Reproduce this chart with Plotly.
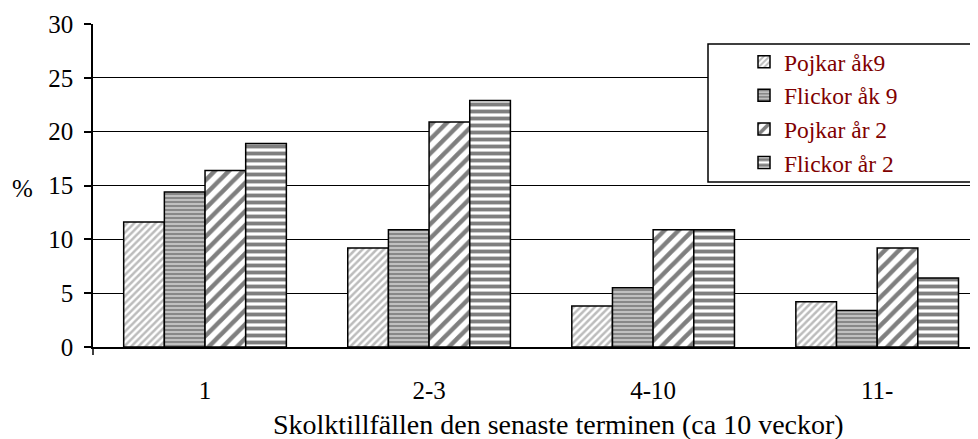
import plotly.graph_objects as go

categories = ["1", "2-3", "4-10", "11-"]
series_names = ["Pojkar åk9", "Flickor åk 9", "Pojkar år 2", "Flickor år 2"]
pojkar_ak9 = [11.6, 9.2, 3.8, 4.2]
flickor_ak9 = [14.4, 10.9, 5.5, 3.4]
pojkar_ar2 = [16.4, 20.9, 10.9, 9.2]
flickor_ar2 = [18.9, 22.9, 10.9, 6.4]
y_ticks = [0, 5, 10, 15, 20, 25, 30]

values = [pojkar_ak9, flickor_ak9, pojkar_ar2, flickor_ar2]
patterns = [
    dict(shape="/", fgcolor="#7a7a7a", bgcolor="white", size=5, solidity=0.5),
    dict(shape="-", fgcolor="#333333", bgcolor="#c0c0c0", size=4, solidity=0.4),
    dict(shape="/", fgcolor="black", bgcolor="white", size=10, solidity=0.45),
    dict(shape="-", fgcolor="black", bgcolor="white", size=7, solidity=0.55),
]

FONT = "Liberation Serif"
FS = 25

# page body has an 8px margin: figure is shifted by 8px right and down
W, H = 970, 431
L, T = 85, 16
PW, PH = 885, 323
B = H - T - PH

fig = go.Figure()
for name, vals, pat in zip(series_names, values, patterns):
    fig.add_trace(go.Bar(
        x=categories, y=vals, name=name,
        marker=dict(color="white", pattern=pat,
                    line=dict(color="black", width=1.5)),
    ))

def px(x):
    return (x - 93) / PW

def py(y):
    return (347 - y) / PH

fig.update_layout(
    width=W, height=H,
    margin=dict(l=L, r=0, t=T, b=B),
    paper_bgcolor="white", plot_bgcolor="white",
    barmode="group", bargap=0.274, bargroupgap=0,
    font=dict(family=FONT, size=FS, color="black"),
    showlegend=True,
    legend=dict(
        x=px(744), y=py(40), xanchor="left", yanchor="top",
        bgcolor="rgba(0,0,0,0)", borderwidth=0,
        font=dict(family=FONT, size=23.5, color="#800000"),
        itemclick=False, tracegroupgap=0,
    ),
    xaxis=dict(
        type="category", range=[-0.5, 3.45],
        showgrid=False, showline=True, linecolor="black", linewidth=1.5,
        ticks="", ticklabelstandoff=20,
        tickfont=dict(family=FONT, size=FS, color="black"),
    ),
    yaxis=dict(
        range=[0, 30], tickvals=y_ticks,
        showgrid=True, gridcolor="black", gridwidth=1,
        showline=True, linecolor="black", linewidth=1.5,
        ticks="outside", ticklen=7, tickcolor="black", tickwidth=1.5,
        ticklabelstandoff=6, zeroline=False,
        tickfont=dict(family=FONT, size=FS, color="black"),
    ),
    shapes=[
        dict(type="rect", xref="paper", yref="paper",
             x0=px(708), x1=px(971), y0=py(182), y1=py(44),
             line=dict(color="black", width=1.5), fillcolor="white",
             layer="above"),
        dict(type="line", xref="paper", yref="paper",
             x0=0, x1=0, y0=0, y1=-8 / PH,
             line=dict(color="black", width=1.5)),
    ],
    annotations=[
        dict(text="%", xref="paper", yref="paper", x=px(22), y=py(188),
             showarrow=False, xanchor="center", yanchor="middle",
             font=dict(family=FONT, size=FS, color="black")),
        dict(text="Skolktillfällen den senaste terminen (ca 10 veckor)",
             xref="paper", yref="paper", x=px(558), y=py(424),
             showarrow=False, xanchor="center", yanchor="middle",
             font=dict(family=FONT, size=28, color="black")),
    ],
)

fig.write_html("out.html")
